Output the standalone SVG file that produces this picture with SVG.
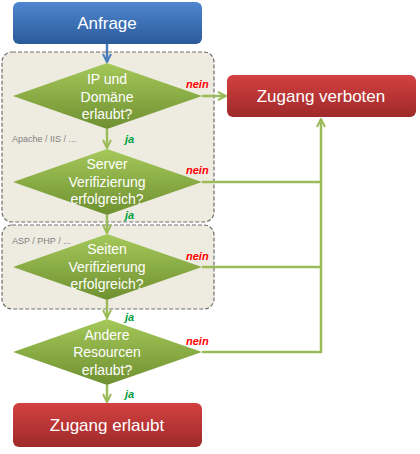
<svg xmlns="http://www.w3.org/2000/svg" width="420" height="454" viewBox="0 0 420 454">
<defs>
<linearGradient id="gBlue" x1="0" y1="0" x2="0" y2="1"><stop offset="0" stop-color="#4f86d0"/><stop offset="1" stop-color="#2a5a9a"/></linearGradient>
<linearGradient id="gRed" x1="0" y1="0" x2="0" y2="1"><stop offset="0" stop-color="#d44040"/><stop offset="1" stop-color="#9e2a2a"/></linearGradient>
<linearGradient id="gGreen" x1="0" y1="0" x2="0" y2="1"><stop offset="0" stop-color="#a5c85a"/><stop offset="1" stop-color="#6f9030"/></linearGradient>
<marker id="arrG" viewBox="0 0 10 10" refX="9" refY="5" markerWidth="4" markerHeight="4" orient="auto" markerUnits="strokeWidth"><path d="M1,1 L9,5 L1,9" fill="none" stroke="#9bbb59" stroke-width="2"/></marker>
<marker id="arrB" viewBox="0 0 10 10" refX="9" refY="5" markerWidth="4" markerHeight="4" orient="auto" markerUnits="strokeWidth"><path d="M1,1 L9,5 L1,9" fill="none" stroke="#4a7ebb" stroke-width="2"/></marker>
</defs>
<style>
.grp{fill:#eeece1;stroke:#6f6f6f;stroke-width:1.2;stroke-dasharray:4,2}
.box{stroke:none}
.dia{fill:url(#gGreen);stroke:none}
.t{font-family:"Liberation Sans",Arial,sans-serif;fill:#fff;text-anchor:middle}
.big{font-size:17px}
.dt{font-size:14px}
.lnG{stroke:#9bbb59;stroke-width:2.5;fill:none}
.nein{font-family:"Liberation Sans",Arial,sans-serif;font-size:11px;font-weight:bold;font-style:italic;fill:#ff0000}
.ja{font-family:"Liberation Sans",Arial,sans-serif;font-size:11px;font-weight:bold;font-style:italic;fill:#00a040}
.small{font-family:"Liberation Sans",Arial,sans-serif;font-size:9px;fill:#7f7f7f}
</style>
<g id="group-apache">
<rect class="grp" x="2" y="52" width="212" height="170" rx="10"/>
<text class="small" x="12" y="142">Apache / IIS / ...</text>
</g>
<g id="group-asp">
<rect class="grp" x="2" y="225" width="212" height="84" rx="10"/>
<text class="small" x="12" y="244">ASP / PHP / ...</text>
</g>
<g id="connectors">
<line x1="107" y1="44" x2="107" y2="62" stroke="#4a7ebb" stroke-width="2.5" marker-end="url(#arrB)"/>
<line class="lnG" x1="107" y1="129" x2="107" y2="148" marker-end="url(#arrG)"/>
<line class="lnG" x1="107" y1="215" x2="107" y2="233" marker-end="url(#arrG)"/>
<line class="lnG" x1="107" y1="300" x2="107" y2="318" marker-end="url(#arrG)"/>
<line class="lnG" x1="107" y1="385" x2="107" y2="402" marker-end="url(#arrG)"/>
<line class="lnG" x1="202" y1="96" x2="226" y2="96" marker-end="url(#arrG)"/>
<polyline class="lnG" points="202,182 321,182"/>
<polyline class="lnG" points="202,267 321,267"/>
<polyline class="lnG" points="202,352 321,352 321,119" marker-end="url(#arrG)"/>
<text class="nein" x="186" y="88">nein</text>
<text class="nein" x="186" y="174">nein</text>
<text class="nein" x="186" y="260">nein</text>
<text class="nein" x="186" y="345">nein</text>
<text class="ja" x="125" y="143">ja</text>
<text class="ja" x="125" y="219">ja</text>
<text class="ja" x="125" y="321">ja</text>
<text class="ja" x="125" y="398">ja</text>
</g>
<g id="anfrage">
<rect class="box" x="13" y="2" width="189" height="42" rx="6" fill="url(#gBlue)"/>
<text class="t big" x="107" y="29">Anfrage</text>
</g>
<g id="d-ip">
<polygon class="dia" points="107,63 202,96 107,129 13,96"/>
<text class="t dt" x="107" y="84">IP und</text>
<text class="t dt" x="107" y="102">Domäne</text>
<text class="t dt" x="107" y="119">erlaubt?</text>
</g>
<g id="d-server">
<polygon class="dia" points="107,149 202,182 107,215 13,182"/>
<text class="t dt" x="107" y="169">Server</text>
<text class="t dt" x="107" y="187">Verifizierung</text>
<text class="t dt" x="107" y="204">erfolgreich?</text>
</g>
<g id="d-seiten">
<polygon class="dia" points="107,234 202,267 107,300 13,267"/>
<text class="t dt" x="107" y="254">Seiten</text>
<text class="t dt" x="107" y="272">Verifizierung</text>
<text class="t dt" x="107" y="289">erfolgreich?</text>
</g>
<g id="d-andere">
<polygon class="dia" points="107,319 202,352 107,385 13,352"/>
<text class="t dt" x="107" y="340">Andere</text>
<text class="t dt" x="107" y="357">Resourcen</text>
<text class="t dt" x="107" y="375">erlaubt?</text>
</g>
<g id="verboten">
<rect class="box" x="227" y="75" width="189" height="42" rx="6" fill="url(#gRed)"/>
<text class="t big" x="321" y="102">Zugang verboten</text>
</g>
<g id="erlaubt">
<rect class="box" x="13" y="403" width="189" height="44" rx="6" fill="url(#gRed)"/>
<text class="t big" x="107" y="431">Zugang erlaubt</text>
</g>
</svg>
